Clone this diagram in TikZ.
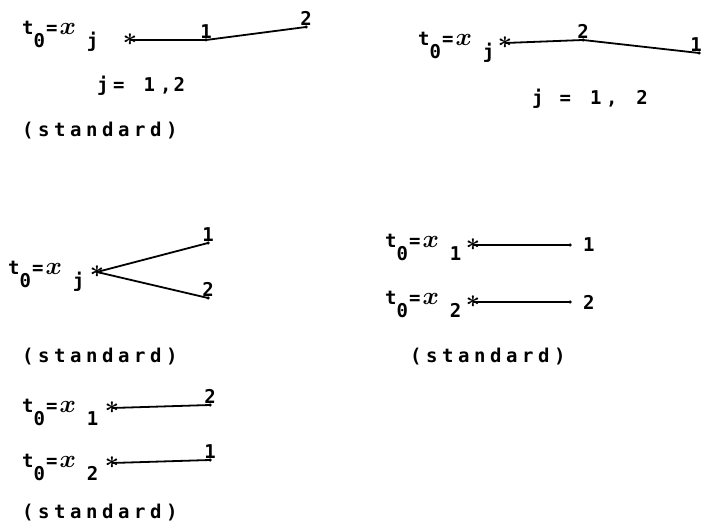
\documentclass[tikz,border=0pt]{standalone}
\usepackage{fontspec}
\usepackage{bm}
\newfontfamily\typew[LetterSpace=24]{DejaVu Sans Mono}
\newfontfamily\typel[LetterSpace=6]{DejaVu Sans Mono}
\newcommand\tlab[1]{t\raisebox{-13pt}{0}\kern1pt=\kern2pt{\fontsize{25}{27}\selectfont$\bm{x}$}\kern11pt\raisebox{-13pt}{#1}}
\begin{document}
\begin{tikzpicture}[x=1pt,y=-1pt,
	txt/.style={anchor=base west,inner sep=0pt,font=\typew\bfseries\fontsize{19}{21}\selectfont},
	lab/.style={anchor=base west,inner sep=0pt,font=\typel\bfseries\fontsize{19}{21}\selectfont},
	num/.style={anchor=south,inner sep=1.5pt,font=\typel\bfseries\fontsize{19}{21}\selectfont},
	ast/.style={inner sep=0pt,font=\fontsize{26}{28}\selectfont},
	dot/.style={circle,fill,inner sep=0pt,minimum size=3.5pt},
	arm/.style={line width=1.8pt}]
		\useasboundingbox (0,0) rectangle (704,529);
		% j = 1,2 , dot 1 then dot 2
		\node[lab] (p1) at (22,35) {\tlab{j}};
		\node[ast] (s1) at (130,40) {$\bm\ast$};
		\node[dot] (a1) at (206,40) {};
		\node[dot] (a2) at (306,27) {};
		\draw[arm] (s1.center) -- (a1.center) -- (a2.center);
		\node[num] (na1) at (a1.center) {1};
		\node[num] (na2) at (a2.center) {2};
		\node[txt] (j1) at (97,92) {j= \hspace{3pt}1\hspace{5pt},\hspace{2pt}2};
		% j = 1,2 , dot 2 then dot 1
		\node[lab] (p2) at (418,46) {\tlab{j}};
		\node[ast] (s2) at (505,43) {$\bm\ast$};
		\node[dot] (b2) at (583,40) {};
		\node[dot] (b1) at (699,53) {};
		\draw[arm] (s2.center) -- (b2.center) -- (b1.center);
		\node[num] (nb2) at (b2.center) {2};
		\node[num,anchor=south east,inner sep=1pt] (nb1) at ([xshift=4pt]b1.center) {1};
		\node[txt] (j2) at (532,105) {j = \hspace{3pt}1,\hspace{3pt} 2};
		% fork
		\node[lab] (p3) at (8,275) {\tlab{j}};
		\node[ast] (s3) at (97,272) {$\bm\ast$};
		\node[dot] (c1) at (208,243) {};
		\node[dot] (c2) at (208,298) {};
		\draw[arm] (c1.center) -- (s3.center) -- (c2.center);
		\node[num] (nc1) at (c1.center) {1};
		\node[num] (nc2) at (c2.center) {2};
		% two starts, numbers at the right
		\foreach \i/\y in {1/248,2/305}{
			\node[lab] (p4\i) at (385,\y) {\tlab{\i}};
			\node[ast] (s4\i) at (473,\y-3) {$\bm\ast$};
			\node[dot] (d4\i) at (570,\y-3) {};
			\draw[arm] (s4\i.center) -- (d4\i.center);
			\node[lab] (n4\i) at (583,\y+4) {\i};
		}
		% two starts, numbers swapped
		\foreach \i/\k/\y in {1/2/412,2/1/467}{
			\node[lab] (p5\i) at (22,\y) {\tlab{\i}};
			\node[ast] (s5\i) at (112,\y-4) {$\bm\ast$};
			\node[dot] (d5\i) at (210,\y-7) {};
			\draw[arm] (s5\i.center) -- (d5\i.center);
			\node[num] (n5\i) at (d5\i.center) {\k};
		}
		\foreach \n/\x/\y in {st1/22/137,st3/22/362,st4/410/362,st5/22/518}{\node[txt] (\n) at (\x,\y) {(standard)};}
	\end{tikzpicture}
\end{document}
